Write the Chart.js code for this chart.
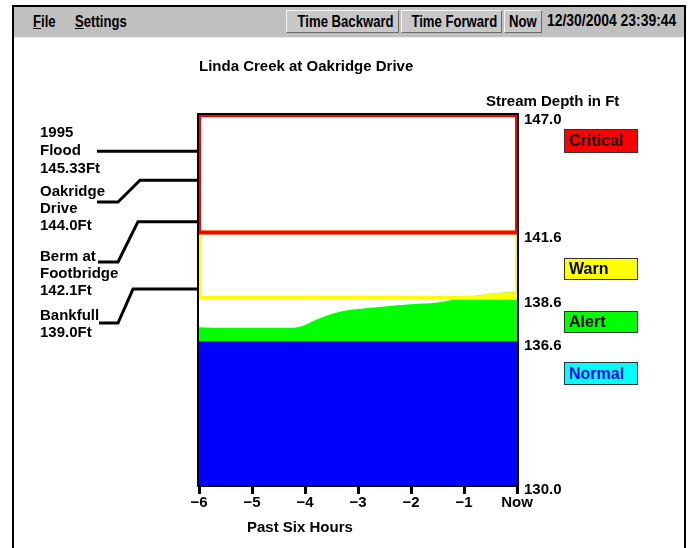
<!DOCTYPE html>
<html><head><meta charset="utf-8">
<script src="https://cdn.jsdelivr.net/npm/chart.js@4"></script>
<style>
html,body{margin:0;padding:0;background:#fff;}
#wrap{position:relative;width:688px;height:548px;overflow:hidden;font-family:"Liberation Sans",Arial,sans-serif;color:#000;}
#frame{position:absolute;left:12px;top:5px;width:670px;height:600px;border:2px solid #000;border-bottom:none;}
#bar{position:absolute;left:14px;top:7px;width:670px;height:30px;background:#c0c0c0;border-bottom:1px solid #ececec;
  font-family:"Liberation Sans",Arial,sans-serif;font-weight:bold;font-size:16px;}
.nt{display:inline-block;transform:scaleX(0.82);white-space:nowrap;}
.menu{position:absolute;top:6px;line-height:18px;}
.menu .nt{transform-origin:0 50%;}
.menu u{text-decoration:underline;}
.btn{position:absolute;top:3px;height:23px;line-height:21px;text-align:center;background:#c8c8c8;overflow:visible;
  border-top:1px solid #f4f4f4;border-left:1px solid #f4f4f4;border-right:1px solid #6a6a6a;border-bottom:1px solid #6a6a6a;box-sizing:border-box;}
.btn .nt{transform-origin:50% 50%;}
#date{position:absolute;top:3px;line-height:22px;left:533px;}
#date .nt{transform-origin:0 50%;transform:scaleX(0.87);}
canvas{position:absolute;left:0;top:0;}
.txt{position:absolute;font-weight:bold;font-size:15px;line-height:17px;white-space:nowrap;}
.lg{position:absolute;left:564px;width:74px;box-sizing:border-box;border:1px solid #333;font-weight:bold;font-size:16px;padding-left:4px;white-space:nowrap;}
</style></head>
<body>
<div id="wrap">
  <div id="frame"></div>
  <div id="bar">
    <span class="menu" style="left:19px"><span class="nt"><u>F</u>ile</span></span>
    <span class="menu" style="left:61px"><span class="nt"><u>S</u>ettings</span></span>
    <div class="btn" style="left:272px;width:113px"><span class="nt">Time Backward</span></div>
    <div class="btn" style="left:387px;width:101px"><span class="nt">Time Forward</span></div>
    <div class="btn" style="left:490px;width:38px"><span class="nt">Now</span></div>
    <span id="date"><span class="nt">12/30/2004 23:39:44</span></span>
  </div>
  <canvas id="c" width="688" height="548"></canvas>
  <div class="txt" style="left:199px;top:57px">Linda Creek at Oakridge Drive</div>
  <div class="txt" style="left:486px;top:92px">Stream Depth in Ft</div>
  <div class="txt" style="left:247px;top:518px">Past Six Hours</div>
  <div id="legend"></div>
</div>
<script>
// ---- data ----
const hours = [-6, -5.5, -5, -4.5, -4.2, -4.0, -3.8, -3.6, -3.4, -3.2, -3.0, -2.5, -2.0, -1.5, -1.0, -0.7, -0.4, -0.2, 0];
const streamDepth = [137.25, 137.22, 137.22, 137.22, 137.23, 137.35, 137.58, 137.78, 137.93, 138.03, 138.09, 138.20, 138.30, 138.38, 138.62, 138.72, 138.82, 138.85, 138.86];
const levelBounds = [130.0, 136.6, 138.6, 141.6, 147.0];
const xTickValues = [-6, -5, -4, -3, -2, -1, 0];
const xTickLabels = ['\u22126', '\u22125', '\u22124', '\u22123', '\u22122', '\u22121', 'Now'];
const statusNames = ['Critical', 'Warn', 'Alert', 'Normal'];
const landmarkNames = [['1995', 'Flood'], ['Oakridge', 'Drive'], ['Berm at', 'Footbridge'], ['Bankfull']];
const landmarkDepths = [145.33, 144.0, 142.1, 139.0];
const landmarkDepthLabels = ['145.33Ft', '144.0Ft', '142.1Ft', '139.0Ft'];

// ---- legend boxes (HTML) ----
const legendStyle = [
  {top:129, h:24, bg:'#ff0000', fg:'#200000'},
  {top:258, h:22, bg:'#ffff00', fg:'#000'},
  {top:311, h:22, bg:'#00ff00', fg:'#000'},
  {top:362, h:23, bg:'#00ffff', fg:'#0000ff'}
];
const lg = document.getElementById('legend');
statusNames.forEach((n, i) => {
  const d = document.createElement('div');
  const s = legendStyle[i];
  d.className = 'lg';
  d.textContent = n;
  d.style.top = s.top + 'px'; d.style.height = s.h + 'px'; d.style.lineHeight = (s.h - 2) + 'px';
  d.style.background = s.bg; d.style.color = s.fg;
  lg.appendChild(d);
});

const FONT = '"Liberation Sans", Arial, sans-serif';
const x0 = xTickValues[0], x1 = xTickValues[xTickValues.length - 1];
function box(lo, hi) {
  return [{x:x0,y:lo},{x:x0,y:hi},{x:x1,y:hi},{x:x1,y:lo},{x:x0,y:lo}];
}
const levelPts = hours.map((h, i) => ({x:h, y:streamDepth[i]}));

// layout of the landmark labels (pixels)
const landmarkLayout = [
  {textY:133, hook:null},
  {textY:192, hook:{y:202, xa:97, xb:118, bend:140}},
  {textY:257, hook:{y:262, xa:98, xb:118, bend:138}},
  {textY:316, hook:{y:323, xa:99, xb:118, bend:133}}
];

const framePlugin = {
  id: 'frame',
  afterDatasetsDraw(chart) {
    const a = chart.chartArea, ctx = chart.ctx;
    ctx.save();
    ctx.strokeStyle = '#000'; ctx.lineWidth = 2;
    ctx.strokeRect(a.left - 1, a.top - 1, a.right - a.left + 2, a.bottom - a.top + 2);
    ctx.restore();
  }
};
const landmarkPlugin = {
  id: 'landmarks',
  afterDraw(chart) {
    const ctx = chart.ctx, ys = chart.scales.y, left = chart.chartArea.left;
    ctx.save();
    ctx.font = 'bold 15px ' + FONT;
    ctx.fillStyle = '#000'; ctx.textBaseline = 'middle'; ctx.textAlign = 'left';
    ctx.strokeStyle = '#000'; ctx.lineWidth = 3; ctx.lineJoin = 'miter';
    landmarkDepths.forEach((v, i) => {
      const L = landmarkLayout[i];
      const lines = landmarkNames[i].concat([landmarkDepthLabels[i]]);
      const sp = i === 0 ? 18 : 17;
      lines.forEach((t, k) => ctx.fillText(t, 40, L.textY + k * sp));
      const py = ys.getPixelForValue(v);
      ctx.beginPath();
      if (!L.hook) {
        ctx.moveTo(97, py); ctx.lineTo(left, py);
      } else {
        ctx.moveTo(L.hook.xa, L.hook.y); ctx.lineTo(L.hook.xb, L.hook.y);
        ctx.lineTo(L.hook.bend, py); ctx.lineTo(left, py);
      }
      ctx.stroke();
    });
    ctx.restore();
  }
};

new Chart(document.getElementById('c'), {
  type: 'line',
  data: {
    datasets: [
      {label:'Critical', data: box(levelBounds[3], levelBounds[4]), borderColor:'#ff0000', borderWidth:4, pointRadius:0, fill:false, tension:0},
      {label:'Warn', data: box(levelBounds[2], levelBounds[3]), borderColor:'#ffff00', borderWidth:4, pointRadius:0, fill:false, tension:0},
      {label:'Depth above alert', data: levelPts, borderWidth:0, pointRadius:0, cubicInterpolationMode:'monotone',
        fill:{target:{value:levelBounds[2]}, above:'#ffff00', below:'rgba(0,0,0,0)'}},
      {label:'Depth', data: levelPts, borderWidth:0, pointRadius:0, cubicInterpolationMode:'monotone',
        fill:{value:levelBounds[1]}, backgroundColor:'#00ff00'},
      {label:'Normal', data: [{x:x0,y:levelBounds[1]},{x:x1,y:levelBounds[1]}], borderColor:'#1c3a1c', borderWidth:1, pointRadius:0,
        fill:{value:levelBounds[0]}, backgroundColor:'#0000ff'}
    ]
  },
  options: {
    responsive: false, devicePixelRatio: 1, animation: false,
    layout: {padding: {left:199, top:115, right:111, bottom:28}},
    plugins: {legend:{display:false}, tooltip:{enabled:false}, title:{display:false}},
    scales: {
      x: {
        type:'linear', min:x0, max:x1,
        afterBuildTicks: s => { s.ticks = xTickValues.map(v => ({value:v})); },
        afterFit: s => { s.height = 35; },
        ticks: {callback:(v, i) => xTickLabels[i], color:'#000', font:{size:15, weight:'bold', family:FONT}, padding:0, maxRotation:0, autoSkip:false},
        grid: {drawOnChartArea:false, drawTicks:true, tickLength:9, tickWidth:3, color:'#000'},
        border: {display:false}
      },
      y: {
        position:'right', min:levelBounds[0], max:levelBounds[levelBounds.length - 1],
        afterBuildTicks: s => { s.ticks = levelBounds.map(v => ({value:v})); },
        afterFit: s => { s.width = 60; },
        ticks: {callback: v => Number(v).toFixed(1), color:'#000', font:{size:15, weight:'bold', family:FONT}, padding:7, labelOffset:5, autoSkip:false},
        grid: {display:false, drawTicks:false},
        border: {display:false}
      }
    }
  },
  plugins: [framePlugin, landmarkPlugin]
});
</script>
</body></html>
